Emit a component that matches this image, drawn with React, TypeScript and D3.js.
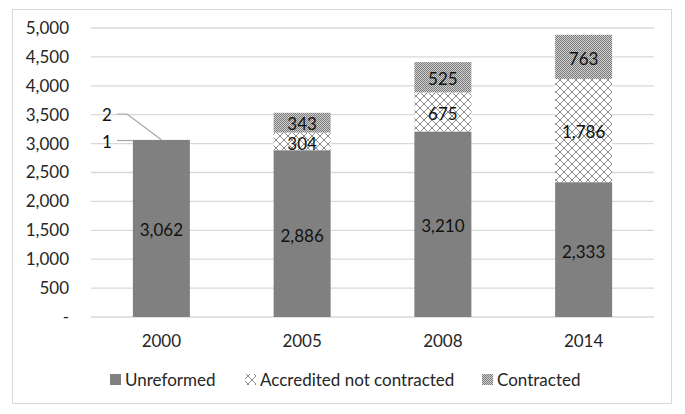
import React from "react";
import * as d3 from "d3";

const years = ["2000", "2005", "2008", "2014"];
const unreformed = [3062, 2886, 3210, 2333];
const accredited = [1, 304, 675, 1786];
const contracted = [2, 343, 525, 763];
const yTicks = [0, 500, 1000, 1500, 2000, 2500, 3000, 3500, 4000, 4500, 5000];
const seriesNames = ["Unreformed", "Accredited not contracted", "Contracted"];

const W = 685, H = 414;
const FONT = "Lato, 'Open Sans', sans-serif";
const FS = 17;

export default function App() {
  const x = d3.scaleBand().domain(years).range([91, 654]).paddingInner(0.595).paddingOuter(0.2975);
  const y = d3.scaleLinear().domain([0, 5000]).range([317, 28]);
  const fmt = d3.format(",");
  const rows = years.map((yr, i) => ({ yr, u: unreformed[i], a: accredited[i], c: contracted[i] }));
  const stack = d3.stack<any>().keys(["u", "a", "c"])(rows);
  const fills = ["#808080", "url(#pAcc)", "url(#pCon)"];
  const bw = x.bandwidth();

  // label positions per bar, nudged apart if too close
  const labels: { x: number; y: number; t: string }[] = [];
  years.forEach((yr, i) => {
    if (i === 0) {
      const d = stack[0][i];
      labels.push({ x: x(yr)! + bw / 2, y: (y(d[0]) + y(d[1])) / 2 + 2, t: fmt(d[1] - d[0]) });
      return;
    }
    const ys = stack.map((s) => (y(s[i][0]) + y(s[i][1])) / 2 + 2);
    const minGap = 20;
    for (let k = 1; k < ys.length; k++) {
      const gap = ys[k - 1] - ys[k];
      if (gap < minGap) {
        const push = (minGap - gap) / 2;
        ys[k - 1] += push;
        ys[k] -= push;
      }
    }
    stack.forEach((s, si) => labels.push({ x: x(yr)! + bw / 2, y: ys[si], t: fmt(s[i][1] - s[i][0]) }));
  });

  return (
    <svg width={W} height={H} style={{ position: "absolute", left: 0, top: 0 }}>
      <defs>
        <pattern id="pAcc" width="8" height="8" patternUnits="userSpaceOnUse">
          <rect width="8" height="8" fill="#fff" />
          <path d="M0,0 L8,8 M8,0 L0,8" stroke="#8a8a8a" strokeWidth="1" />
        </pattern>
        <pattern id="pCon" width="2" height="2" patternUnits="userSpaceOnUse">
          <rect width="2" height="2" fill="#d0d0d0" />
          <rect x="0" y="0" width="1" height="1" fill="#7a7a7a" />
          <rect x="1" y="1" width="1" height="1" fill="#7a7a7a" />
        </pattern>
      </defs>
      <rect x={0} y={0} width={W} height={H} fill="#fff" />
      <rect x={12.5} y={9.5} width={659} height={394} fill="#fff" stroke="#d9d9d9" />
      {yTicks.map((t) => (
        <g key={t}>
          <line x1={91} x2={654} y1={y(t)} y2={y(t)} stroke="#d9d9d9" strokeWidth={1.3} />
          <text x={69} y={y(t)} dy="0.35em" textAnchor="end" fontFamily={FONT} fontSize={FS} fill="#262626">
            {t === 0 ? "-" : fmt(t)}
          </text>
        </g>
      ))}
      {stack.map((s, si) =>
        s.map((d, i) => (
          <rect key={si + "-" + i} x={x(years[i])} width={bw} y={y(d[1])} height={y(d[0]) - y(d[1])} fill={fills[si]} />
        ))
      )}
      {years.map((yr) => (
        <text key={yr} x={x(yr)! + bw / 2} y={341} dy="0.35em" textAnchor="middle" fontFamily={FONT} fontSize={FS} fill="#262626">
          {yr}
        </text>
      ))}
      {labels.map((l, k) => (
        <text key={"l" + k} x={l.x} y={l.y} dy="0.35em" textAnchor="middle" fontFamily={FONT} fontSize={FS} fill="#111">
          {l.t}
        </text>
      ))}
      {(() => {
        const bx = x(years[0])!;
        const cx = bx + bw / 2;
        const top = y(stack[2][0][1]);
        return (
          <g>
            <line x1={117} x2={bx} y1={y(unreformed[0]) + 0.5} y2={y(unreformed[0]) + 0.5} stroke="#a6a6a6" strokeWidth={1.2} />
            <polyline points={`117,114 127,114 ${cx},${top}`} fill="none" stroke="#a6a6a6" strokeWidth={1.2} />
            <text x={107} y={115} dy="0.35em" textAnchor="middle" fontFamily={FONT} fontSize={FS} fill="#111">{fmt(contracted[0])}</text>
            <text x={107} y={y(unreformed[0]) + 2} dy="0.35em" textAnchor="middle" fontFamily={FONT} fontSize={FS} fill="#111">{fmt(accredited[0])}</text>
          </g>
        );
      })()}
      <g fontFamily={FONT} fontSize={FS} fill="#262626">
        <rect x={110} y={374} width={11} height={11} fill={fills[0]} />
        <text x={125} y={380} dy="0.35em">{seriesNames[0]}</text>
        <rect x={245} y={374} width={11} height={11} fill={fills[1]} />
        <text x={260} y={380} dy="0.35em">{seriesNames[1]}</text>
        <rect x={482} y={374} width={11} height={11} fill={fills[2]} />
        <text x={497} y={380} dy="0.35em">{seriesNames[2]}</text>
      </g>
    </svg>
  );
}
